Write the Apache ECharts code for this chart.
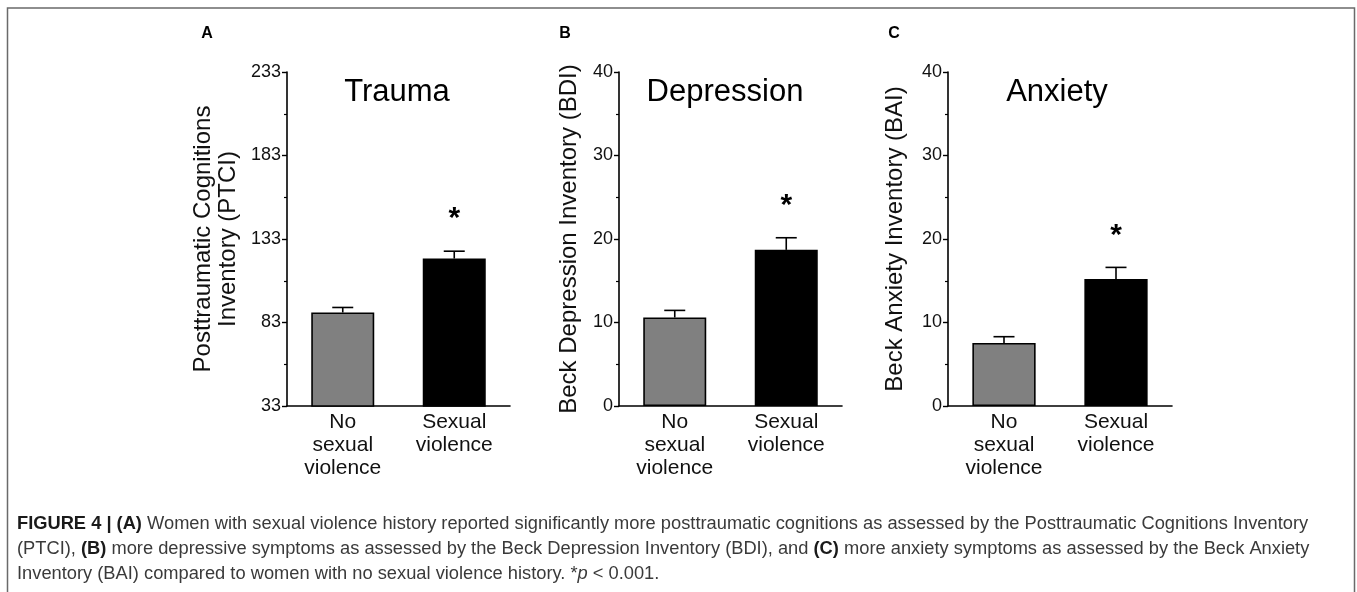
<!DOCTYPE html>
<html>
<head>
<meta charset="utf-8">
<script src="https://cdn.jsdelivr.net/npm/echarts@6/dist/echarts.min.js"></script>
<style>
  html, body { margin: 0; padding: 0; background: #fff; }
  #chart { width: 1357px; height: 592px; }
</style>
</head>
<body>
<div id="chart"></div>
<script>
// Group labels shared by all three panels
const categories = ['No\nsexual\nviolence', 'Sexual\nviolence'];
const significance = ['', '*'];

// Panel A: Posttraumatic Cognitions Inventory (mean, upper SEM)
const traumaMean = [89.0, 121.3];
const traumaErr = [3.0, 4.4];
const traumaTicks = [33, 83, 133, 183, 233];

// Panel B: Beck Depression Inventory
const depressionMean = [10.6, 18.7];
const depressionErr = [0.85, 1.45];
const depressionTicks = [0, 10, 20, 30, 40];

// Panel C: Beck Anxiety Inventory
const anxietyMean = [7.55, 15.2];
const anxietyErr = [0.75, 1.4];
const anxietyTicks = [0, 10, 20, 30, 40];

const FONT = '"Liberation Sans", Arial, Helvetica, sans-serif';
const barColors = ['#808080', '#000000'];

const panels = [
  { title: 'Trauma', letter: 'A', name: 'Posttraumatic Cognitions\nInventory (PTCI)', mean: traumaMean, err: traumaErr, ticks: traumaTicks,
    grid: { left: 287, top: 72, width: 223, height: 334 }, nameGap: 46, titleX: 397, letterX: 207 },
  { title: 'Depression', letter: 'B', name: 'Beck Depression Inventory (BDI)', mean: depressionMean, err: depressionErr, ticks: depressionTicks,
    grid: { left: 619, top: 72, width: 223, height: 334 }, nameGap: 37, titleX: 725, letterX: 565 },
  { title: 'Anxiety', letter: 'C', name: 'Beck Anxiety Inventory (BAI)', mean: anxietyMean, err: anxietyErr, ticks: anxietyTicks,
    grid: { left: 948, top: 72, width: 224, height: 334 }, nameGap: 40, titleX: 1057, letterX: 894 }
];

const grids = [], xAxes = [], yAxes = [], series = [], graphics = [];

panels.forEach((p, i) => {
  grids.push(p.grid);
  const step = p.ticks[1] - p.ticks[0];
  xAxes.push({
    type: 'category', gridIndex: i, data: categories,
    axisLine: { lineStyle: { color: '#000', width: 1.6 } },
    axisTick: { show: false },
    axisLabel: { color: '#111', fontFamily: FONT, fontSize: 21, lineHeight: 23, margin: 5, interval: 0 }
  });
  yAxes.push({
    type: 'value', gridIndex: i,
    min: p.ticks[0], max: p.ticks[p.ticks.length - 1], interval: step,
    name: p.name, nameLocation: 'middle', nameGap: p.nameGap,
    nameTextStyle: { color: '#111', fontFamily: FONT, fontSize: 24, lineHeight: 25 },
    axisLine: { show: true, lineStyle: { color: '#000', width: 1.6 } },
    axisTick: { show: true, length: 5, lineStyle: { color: '#000', width: 1.4 } },
    minorTick: { show: true, splitNumber: 2, length: 3, lineStyle: { color: '#000', width: 1.2 } },
    splitLine: { show: false },
    axisLabel: { color: '#111', fontFamily: FONT, fontSize: 18, margin: 6 }
  });

  series.push({
    type: 'bar', xAxisIndex: i, yAxisIndex: i, barWidth: '56.5%',
    data: p.mean.map((v, k) => ({ value: v, itemStyle: { color: barColors[k], borderColor: '#000', borderWidth: 1.6 } })),
    silent: true, z: 2
  });

  // Upper error whisker with cap, plus significance marker above it
  series.push({
    type: 'custom', xAxisIndex: i, yAxisIndex: i, z: 3, silent: true,
    data: p.mean.map((v, k) => [k, v, p.err[k], k]),
    renderItem: function (params, api) {
      const k = api.value(0), m = api.value(1), e = api.value(2);
      const base = api.coord([k, m]);
      const top = api.coord([k, m + e]);
      const hw = 10.5;
      const stroke = { stroke: '#000', lineWidth: 1.6 };
      const children = [
        { type: 'line', shape: { x1: top[0], y1: base[1], x2: top[0], y2: top[1] }, style: stroke },
        { type: 'line', shape: { x1: top[0] - hw, y1: top[1], x2: top[0] + hw, y2: top[1] }, style: stroke }
      ];
      const mark = significance[api.value(3)];
      if (mark) {
        children.push({
          type: 'text',
          style: { text: mark, x: top[0], y: top[1] - 32, align: 'center', verticalAlign: 'middle',
                   font: 'bold 30px ' + FONT, fill: '#000' }
        });
      }
      return { type: 'group', children: children };
    }
  });

  graphics.push({
    type: 'text', x: p.titleX, y: 92,
    style: { text: p.title, font: '31px ' + FONT, fill: '#000', textAlign: 'center', textVerticalAlign: 'middle' }
  });
  graphics.push({
    type: 'text', x: p.letterX, y: 34,
    style: { text: p.letter, font: 'bold 16px ' + FONT, fill: '#000', textAlign: 'center', textVerticalAlign: 'middle' }
  });
});

// Figure frame (open at the bottom edge of the page)
graphics.push({
  type: 'rect', shape: { x: 7.5, y: 8, width: 1347, height: 600 },
  style: { fill: null, stroke: '#6a6a6a', lineWidth: 1.5 }, z: 0
});

// Caption
const captionLines = [
  '{b|FIGURE 4 | (A)} Women with sexual violence history reported significantly more posttraumatic cognitions as assessed by the Posttraumatic Cognitions Inventory',
  '(PTCI), {b|(B)} more depressive symptoms as assessed by the Beck Depression Inventory (BDI), and {b|(C)} more anxiety symptoms as assessed by the Beck Anxiety',
  'Inventory (BAI) compared to women with no sexual violence history. *{i|p} < 0.001.'
];
const CAP = 18.3;
graphics.push({
  type: 'text', x: 17, y: 511,
  style: {
    text: captionLines.join('\n'),
    font: CAP + 'px ' + FONT, fill: '#3a3a3a', lineHeight: 25,
    rich: {
      b: { fontFamily: FONT, fontSize: CAP, fontWeight: 'bold', fill: '#1a1a1a', lineHeight: 25 },
      i: { fontFamily: FONT, fontSize: CAP, fontStyle: 'italic', fill: '#3a3a3a', lineHeight: 25 }
    }
  }
});

const chart = echarts.init(document.getElementById('chart'), null, { renderer: 'canvas' });
chart.setOption({
  backgroundColor: '#ffffff',
  animation: false,
  grid: grids,
  xAxis: xAxes,
  yAxis: yAxes,
  series: series,
  graphic: graphics
});
</script>
</body>
</html>
